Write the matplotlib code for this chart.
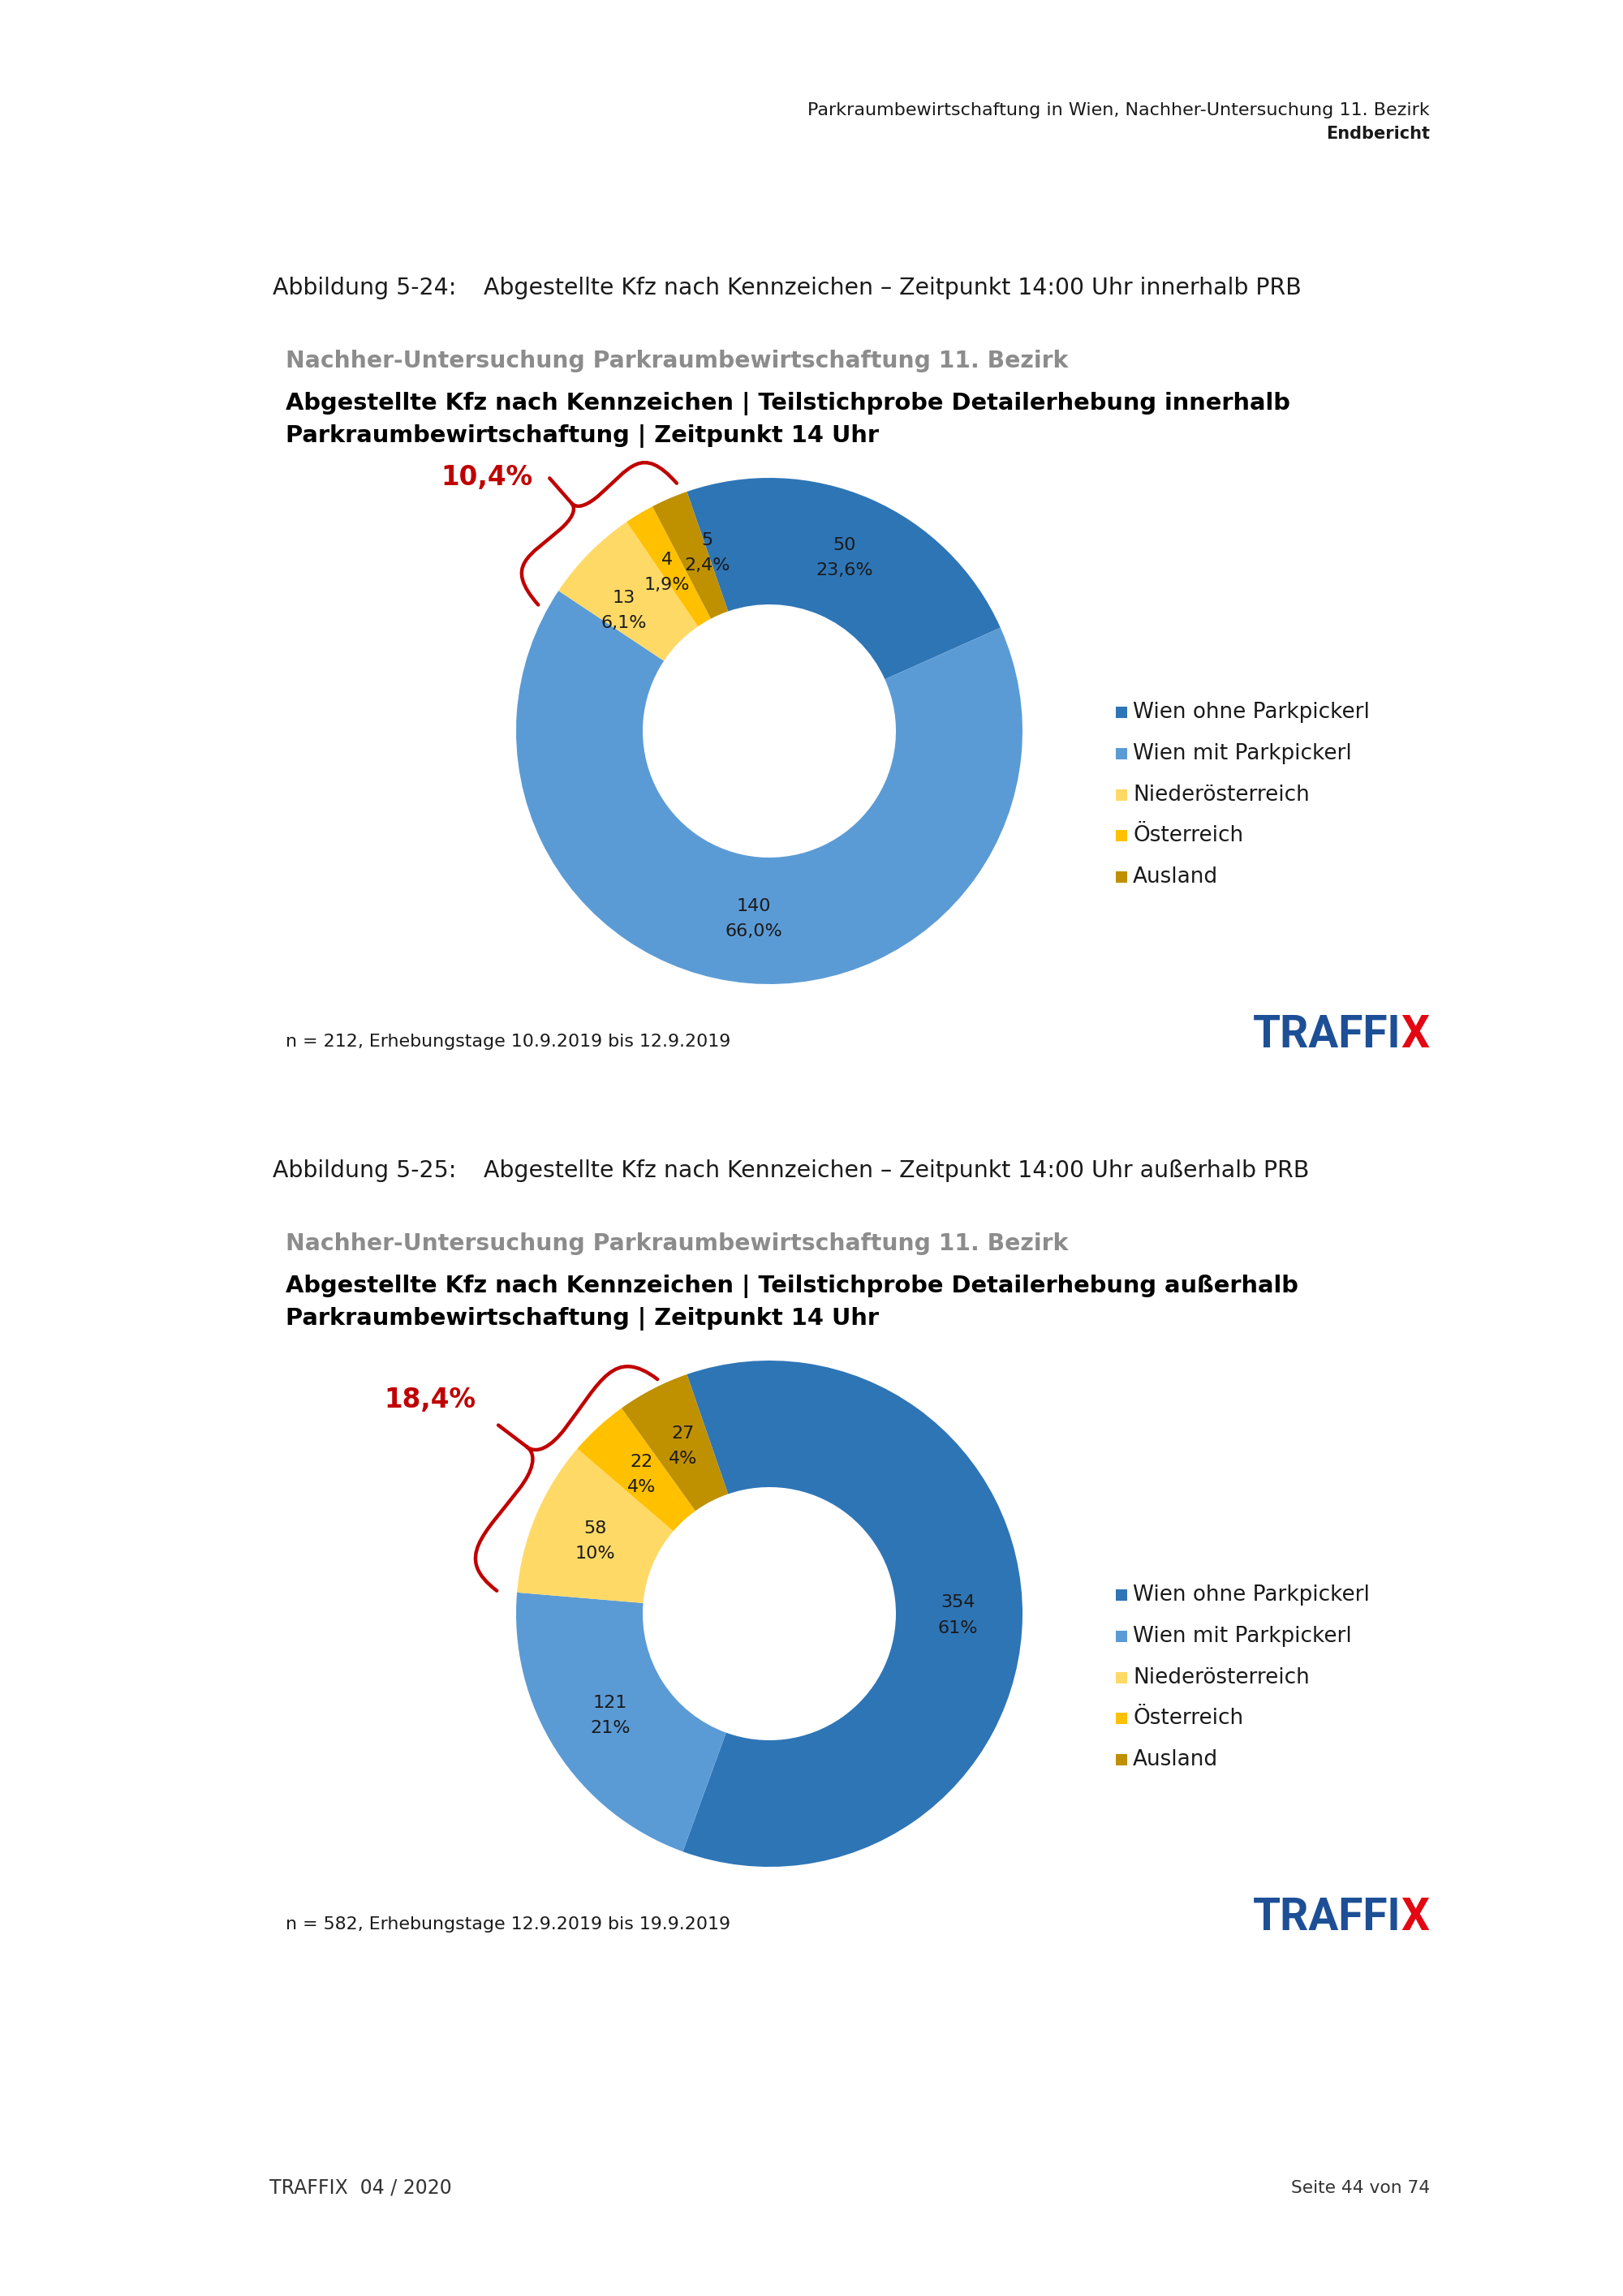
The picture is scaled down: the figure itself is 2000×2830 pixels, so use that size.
import numpy as np
import matplotlib
matplotlib.use('Agg')
import matplotlib.pyplot as plt
from matplotlib.patches import Rectangle, PathPatch
from matplotlib.path import Path

plt.rcParams['font.family'] = ['DejaVu Sans']

# ---------------- data
categories = ['Wien ohne Parkpickerl', 'Wien mit Parkpickerl', 'Niederösterreich',
              'Österreich', 'Ausland']
colors = ['#2E75B6', '#5B9BD5', '#FFD966', '#FFC000', '#BF9000']

inner_counts = [50, 140, 13, 4, 5]
inner_pct = ['23,6%', '66,0%', '6,1%', '1,9%', '2,4%']
inner_share = '10,4%'

outer_counts = [354, 121, 58, 22, 27]
outer_pct = ['61%', '21%', '10%', '4%', '4%']
outer_share = '18,4%'

header1 = 'Parkraumbewirtschaftung in Wien, Nachher-Untersuchung 11. Bezirk'
header2 = 'Endbericht'
fig_nums = ['Abbildung 5-24:', 'Abbildung 5-25:']
fig_caps = ['Abgestellte Kfz nach Kennzeichen – Zeitpunkt 14:00 Uhr innerhalb PRB',
            'Abgestellte Kfz nach Kennzeichen – Zeitpunkt 14:00 Uhr außerhalb PRB']
chart_sup = 'Nachher-Untersuchung Parkraumbewirtschaftung 11. Bezirk'
chart_titles = [['Abgestellte Kfz nach Kennzeichen | Teilstichprobe Detailerhebung innerhalb',
                 'Parkraumbewirtschaftung | Zeitpunkt 14 Uhr'],
                ['Abgestellte Kfz nach Kennzeichen | Teilstichprobe Detailerhebung außerhalb',
                 'Parkraumbewirtschaftung | Zeitpunkt 14 Uhr']]
notes = ['n = 212, Erhebungstage 10.9.2019 bis 12.9.2019',
         'n = 582, Erhebungstage 12.9.2019 bis 19.9.2019']
footer_left = 'TRAFFIX  04 / 2020'
footer_right = 'Seite 44 von 74'

# ---------------- page
W, H = 2000, 2830
fig = plt.figure(figsize=(20, 28.3), dpi=100)
ax = fig.add_axes([0, 0, 1, 1])
ax.set_xlim(0, W)
ax.set_ylim(0, H)
ax.set_autoscale_on(False)
Y = lambda y: H - y
red = '#C00000'
txt = '#1A1A1A'
renderer = fig.canvas.get_renderer()

ax.text(1762, Y(136), header1, ha='right', va='center', fontsize=16, color=txt)
ax.text(1762, Y(165), header2, ha='right', va='center', fontsize=15,
        fontweight='bold', color=txt)
ax.text(332, Y(2697), footer_left, ha='left', va='center', fontsize=17, color='#333333')
ax.text(1762, Y(2697), footer_right, ha='right', va='center', fontsize=15.7, color='#333333')

R = 312
start = 341  # compass angle of first slice


def brace(a, b, centre, d_arm, d_cusp, d_tip):
    a, b, centre = np.array(a), np.array(b), np.array(centre)
    m = (a + b) / 2
    d = b - a
    L = np.hypot(*d)
    u = d / L
    n = np.array([-u[1], u[0]])
    if np.dot(n, m - centre) < 0:
        n = -n
    c = m + n * d_cusp
    qa = m - u * L * 0.14 + n * d_arm
    qb = m + u * L * 0.14 + n * d_arm
    h = (d_cusp - d_arm) * 0.7
    verts = [a, a + n * d_arm * 1.25, qa - u * L * 0.22, qa,
             qa + u * L * 0.08, c - n * h, c,
             c - n * h, qb - u * L * 0.08, qb,
             qb + u * L * 0.22, b + n * d_arm * 1.25, b]
    codes = [Path.MOVETO] + [Path.CURVE4] * 12
    ax.add_patch(PathPatch(Path(verts, codes), fill=False, ec=red, lw=3.2,
                           capstyle='round', joinstyle='round'))
    t = m + n * d_tip
    ax.plot([c[0], t[0]], [c[1], t[1]], color=red, lw=3.2, solid_capstyle='round')
    return t


def logo(xr, yc, width):
    t1 = ax.text(0, yc, 'TRAFFI', ha='right', va='center', fontsize=40,
                 fontweight='bold', family='Roboto', color='#1D4F96')
    t2 = ax.text(xr, yc, 'X', ha='right', va='center', fontsize=40,
                 fontweight='bold', family='Roboto', color='#E30613')
    w = t1.get_window_extent(renderer).width + t2.get_window_extent(renderer).width
    fs = 40 * width / w
    t1.set_fontsize(fs)
    t2.set_fontsize(fs)
    t1.set_x(xr - t2.get_window_extent(renderer).width)


def panel(dy, counts, pct, share, k, nudges, br):
    cx, cy = 948, 901 + dy
    ax.text(336, Y(355 + dy), fig_nums[k], ha='left', va='center', fontsize=20.4, color=txt)
    ax.text(596, Y(355 + dy), fig_caps[k], ha='left', va='center', fontsize=20.4, color=txt)
    ax.text(352, Y(445 + dy), chart_sup, ha='left', va='center', fontsize=20.3,
            fontweight='bold', color='#8C8C8C')
    ax.text(352, Y(498 + dy), chart_titles[k][0], ha='left', va='center', fontsize=20.8,
            fontweight='bold', color='black')
    ax.text(352, Y(537 + dy), chart_titles[k][1], ha='left', va='center', fontsize=20.8,
            fontweight='bold', color='black')

    ax.pie(counts, colors=colors, startangle=90 - start, counterclock=False,
           radius=R, center=(cx, Y(cy)), frame=True,
           wedgeprops=dict(width=R * 0.5, linewidth=0))

    total = sum(counts)
    cum = np.concatenate([[0], np.cumsum(counts)]) / total * 360
    for i in range(len(counts)):
        th = np.radians(start + (cum[i] + cum[i + 1]) / 2 + nudges[i])
        r = 0.745 * R
        ax.text(cx + r * np.sin(th), Y(cy) + r * np.cos(th), f'{counts[i]}\n{pct[i]}',
                ha='center', va='center', fontsize=16, linespacing=1.7, color=txt)

    # brace over the three small slices
    ta = np.radians(start + cum[2] + br['da'])
    tb = np.radians(start + 360 + br['db'])
    pa = (cx + br['ra'] * R * np.sin(ta), Y(cy) + br['ra'] * R * np.cos(ta))
    pb = (cx + br['rb'] * R * np.sin(tb), Y(cy) + br['rb'] * R * np.cos(tb))
    tip = brace(pa, pb, (cx, Y(cy)), *br['depth'])
    ax.text(tip[0] + br['off'][0], tip[1] + br['off'][1], share, ha='right', va='center',
            fontsize=23.5, fontweight='bold', color=red)

    for i, cat in enumerate(categories):
        ly = 878 + dy + 50.8 * i
        ax.add_patch(Rectangle((1375, Y(ly) - 7), 14, 14, color=colors[i], lw=0))
        ax.text(1396, Y(ly), cat, ha='left', va='center', fontsize=18.9, color=txt)

    ax.text(352, Y(1284 + dy), notes[k], ha='left', va='center', fontsize=15.9, color=txt)
    logo(1761, Y(1276 + dy), 217)


panel(0, inner_counts, inner_pct, inner_share, 0, [0, 0, -5, -2, 4],
      dict(da=-5, db=-1.5, ra=1.04, rb=1.045, depth=(52, 67, 108), off=(-21, 1)))
panel(1088, outer_counts, outer_pct, outer_share, 1, [0, 0, 0, 0, 0],
      dict(da=0, db=-6.5, ra=1.08, rb=1.026, depth=(54, 78, 122), off=(-28, 31)))

ax.set_xlim(0, W)
ax.set_ylim(0, H)
ax.axis('off')
fig.savefig('out.png', dpi=100)
